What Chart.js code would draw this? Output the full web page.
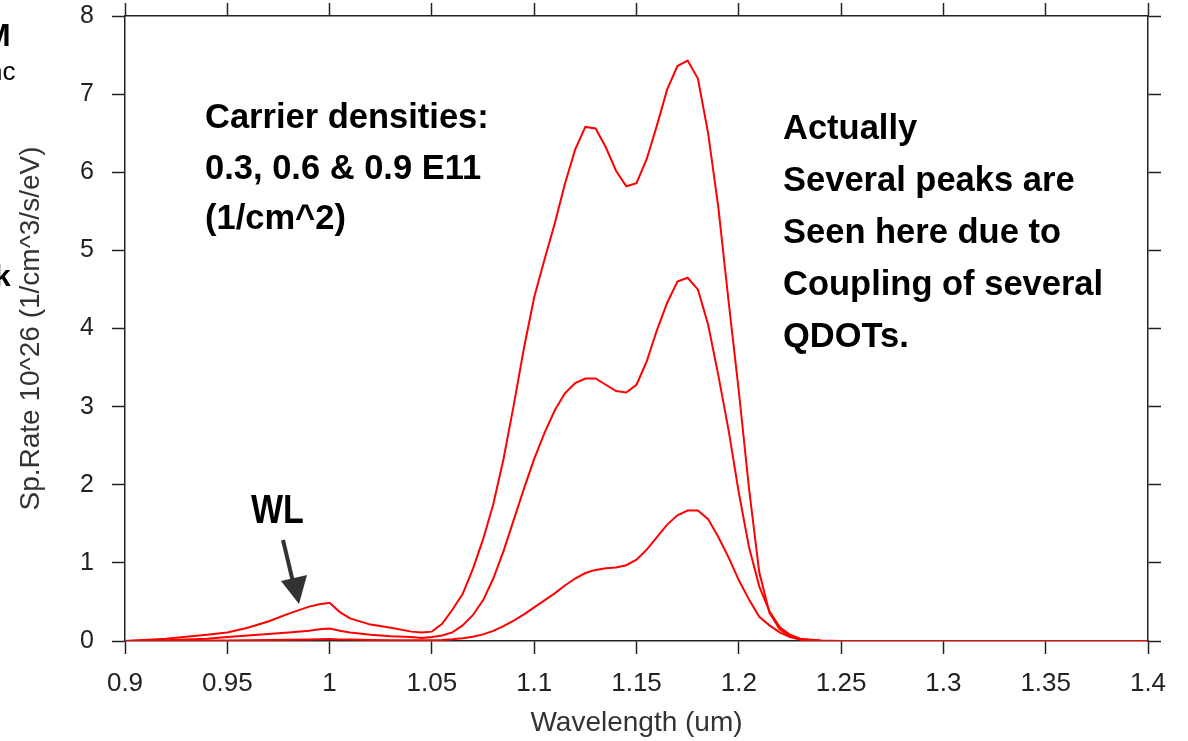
<!DOCTYPE html>
<html>
<head>
<meta charset="utf-8">
<script src="https://cdn.jsdelivr.net/npm/chart.js@4.4.1/dist/chart.umd.min.js"></script>
<style>
  html, body { margin: 0; padding: 0; background: #fff; }
  #wrap { width: 1188px; height: 741px; }
</style>
</head>
<body>
<div id="wrap"><canvas id="chart" width="1188" height="741"></canvas></div>
<script>
// wavelength samples (um)
const wavelength = [
  0.90, 0.92, 0.94, 0.95, 0.96, 0.97, 0.98, 0.99, 0.995, 1.00,
  1.005, 1.01, 1.02, 1.03, 1.04, 1.045, 1.05, 1.055, 1.06, 1.065,
  1.07, 1.075, 1.08, 1.085, 1.09, 1.095, 1.10, 1.105, 1.11, 1.115,
  1.12, 1.125, 1.13, 1.135, 1.14, 1.145, 1.15, 1.155, 1.16, 1.165,
  1.17, 1.175, 1.18, 1.185, 1.19, 1.195, 1.20, 1.205, 1.21, 1.215,
  1.22, 1.225, 1.23, 1.24, 1.25, 1.30, 1.35, 1.40
];

// Sp.Rate 10^26 for carrier density 0.9 E11
const rate09 = [
  0, 0.03, 0.08, 0.11, 0.17, 0.25, 0.35, 0.44, 0.47, 0.49,
  0.37, 0.29, 0.21, 0.17, 0.12, 0.11, 0.12, 0.22, 0.40, 0.60,
  0.92, 1.30, 1.75, 2.33, 3.02, 3.75, 4.40, 4.88, 5.34, 5.85,
  6.29, 6.58, 6.56, 6.32, 6.02, 5.82, 5.86, 6.17, 6.60, 7.06,
  7.36, 7.43, 7.20, 6.50, 5.55, 4.35, 3.20, 1.95, 0.88, 0.36,
  0.15, 0.06, 0.02, 0.003, 0, 0, 0, 0
];

// 0.6 E11
const rate06 = [
  0, 0.01, 0.03, 0.05, 0.07, 0.09, 0.11, 0.13, 0.15, 0.16,
  0.13, 0.11, 0.08, 0.06, 0.05, 0.04, 0.05, 0.07, 0.11, 0.20,
  0.33, 0.52, 0.80, 1.15, 1.55, 1.95, 2.33, 2.66, 2.95, 3.17,
  3.30, 3.36, 3.36, 3.28, 3.20, 3.18, 3.28, 3.58, 3.98, 4.33,
  4.60, 4.65, 4.50, 4.05, 3.40, 2.70, 1.90, 1.20, 0.70, 0.38,
  0.18, 0.08, 0.03, 0.005, 0, 0, 0, 0
];

// 0.3 E11
const rate03 = [
  0, 0.002, 0.005, 0.007, 0.01, 0.013, 0.016, 0.02, 0.022, 0.024,
  0.02, 0.018, 0.014, 0.011, 0.009, 0.009, 0.01, 0.014, 0.022, 0.035,
  0.055, 0.085, 0.13, 0.19, 0.26, 0.34, 0.43, 0.52, 0.61, 0.71,
  0.80, 0.87, 0.91, 0.93, 0.94, 0.97, 1.04, 1.17, 1.33, 1.49,
  1.61, 1.67, 1.67, 1.56, 1.33, 1.07, 0.78, 0.53, 0.31, 0.20,
  0.11, 0.05, 0.02, 0.004, 0, 0, 0, 0
];

const seriesNames = ["0.9 E11", "0.6 E11", "0.3 E11"];
const xTicks = [0.9, 0.95, 1, 1.05, 1.1, 1.15, 1.2, 1.25, 1.3, 1.35, 1.4];
const yTicks = [0, 1, 2, 3, 4, 5, 6, 7, 8];

const notesLeft = ["Carrier densities:", "0.3, 0.6 & 0.9 E11", "(1/cm^2)"];
const notesRight = ["Actually", "Several peaks are", "Seen here due to", "Coupling of several", "QDOTs."];

const FONT = "'Liberation Sans', Arial, sans-serif";

const toPoints = (ys) => wavelength.map((x, i) => ({ x: x, y: ys[i] }));

const lineSet = (label, ys) => ({
  label: label,
  data: toPoints(ys),
  borderColor: "rgb(255,0,0)",
  borderWidth: 2,
  pointRadius: 0,
  tension: 0,
  fill: false,
});

const axisStyle = {
  border: { display: true, color: "#222", width: 1.5 },
  grid: { drawOnChartArea: false, drawTicks: true, tickLength: 13, tickColor: "#222", tickWidth: 1.5 },
};

// fixed box sizes, and no extra room for overhanging labels
const fixBox = (w, h) => (scale) => {
  if (w !== null) scale.width = w;
  if (h !== null) scale.height = h;
  scale.paddingTop = 0;
  scale.paddingBottom = 0;
  scale.paddingLeft = 0;
  scale.paddingRight = 0;
};

// texts drawn on top of the plot
const notesPlugin = {
  id: "notes",
  afterDraw(chart) {
    const ctx = chart.ctx;
    ctx.save();
    ctx.fillStyle = "#000";
    ctx.textAlign = "left";
    ctx.textBaseline = "alphabetic";
    ctx.font = "bold 34.5px " + FONT;
    notesLeft.forEach((t, i) => ctx.fillText(t, 205, 128 + i * 50.5));
    notesRight.forEach((t, i) => ctx.fillText(t, 783, 139 + i * 52));

    // WL label, a bit narrow
    ctx.save();
    ctx.translate(251, 523);
    ctx.scale(0.85, 1);
    ctx.font = "bold 40px " + FONT;
    ctx.fillText("WL", 0, 0);
    ctx.restore();

    // arrow to the wetting layer peak
    ctx.strokeStyle = "#333";
    ctx.fillStyle = "#333";
    ctx.lineWidth = 4;
    ctx.beginPath();
    ctx.moveTo(283, 540);
    ctx.lineTo(293, 582);
    ctx.stroke();
    ctx.beginPath();
    ctx.moveTo(281, 581);
    ctx.lineTo(307, 575);
    ctx.lineTo(299, 604);
    ctx.closePath();
    ctx.fill();

    // cut-off bits of the slide at the left edge
    ctx.fillStyle = "#000";
    ctx.font = "bold 32px " + FONT;
    ctx.fillText("M", -16, 46);
    ctx.font = "26px " + FONT;
    ctx.fillText("nc", -12, 80);
    ctx.font = "bold 30px " + FONT;
    ctx.fillText("k", -6, 286);
    ctx.restore();
  },
};

new Chart(document.getElementById("chart"), {
  type: "line",
  data: {
    datasets: [
      lineSet(seriesNames[0], rate09),
      lineSet(seriesNames[1], rate06),
      lineSet(seriesNames[2], rate03),
    ],
  },
  options: {
    responsive: false,
    animation: false,
    layout: { padding: 0 },
    plugins: { legend: { display: false }, tooltip: { enabled: false } },
    scales: {
      x: {
        type: "linear",
        position: "bottom",
        min: 0.9,
        max: 1.4,
        afterBuildTicks: (scale) => { scale.ticks = xTicks.map((v) => ({ value: v })); },
        ticks: {
          color: "#222",
          padding: 14,
          maxRotation: 0,
          font: { family: FONT, size: 26 },
          callback: (v) => String(+(+v).toFixed(2)),
        },
        title: {
          display: true,
          text: "Wavelength (um)",
          color: "#333",
          font: { family: FONT, size: 28, lineHeight: 1.2 },
          padding: { top: 0, bottom: 1 },
        },
        afterFit: fixBox(null, 100),
        ...axisStyle,
      },
      xTop: {
        type: "linear",
        position: "top",
        min: 0.9,
        max: 1.4,
        afterBuildTicks: (scale) => { scale.ticks = xTicks.map((v) => ({ value: v })); },
        ticks: { display: false },
        afterFit: fixBox(null, 16),
        ...axisStyle,
      },
      y: {
        position: "left",
        min: 0,
        max: 8,
        afterBuildTicks: (scale) => { scale.ticks = yTicks.map((v) => ({ value: v })); },
        ticks: {
          color: "#222",
          padding: 18,
          font: { family: FONT, size: 25 },
        },
        title: {
          display: true,
          text: "Sp.Rate 10^26 (1/cm^3/s/eV)",
          color: "#333",
          font: { family: FONT, size: 28, lineHeight: 1.2 },
          padding: { top: 14, bottom: 0 },
        },
        afterFit: fixBox(125, null),
        ...axisStyle,
      },
      yRight: {
        position: "right",
        min: 0,
        max: 8,
        afterBuildTicks: (scale) => { scale.ticks = yTicks.map((v) => ({ value: v })); },
        ticks: { display: false },
        afterFit: fixBox(40, null),
        ...axisStyle,
      },
    },
  },
  plugins: [notesPlugin],
});
</script>
</body>
</html>
